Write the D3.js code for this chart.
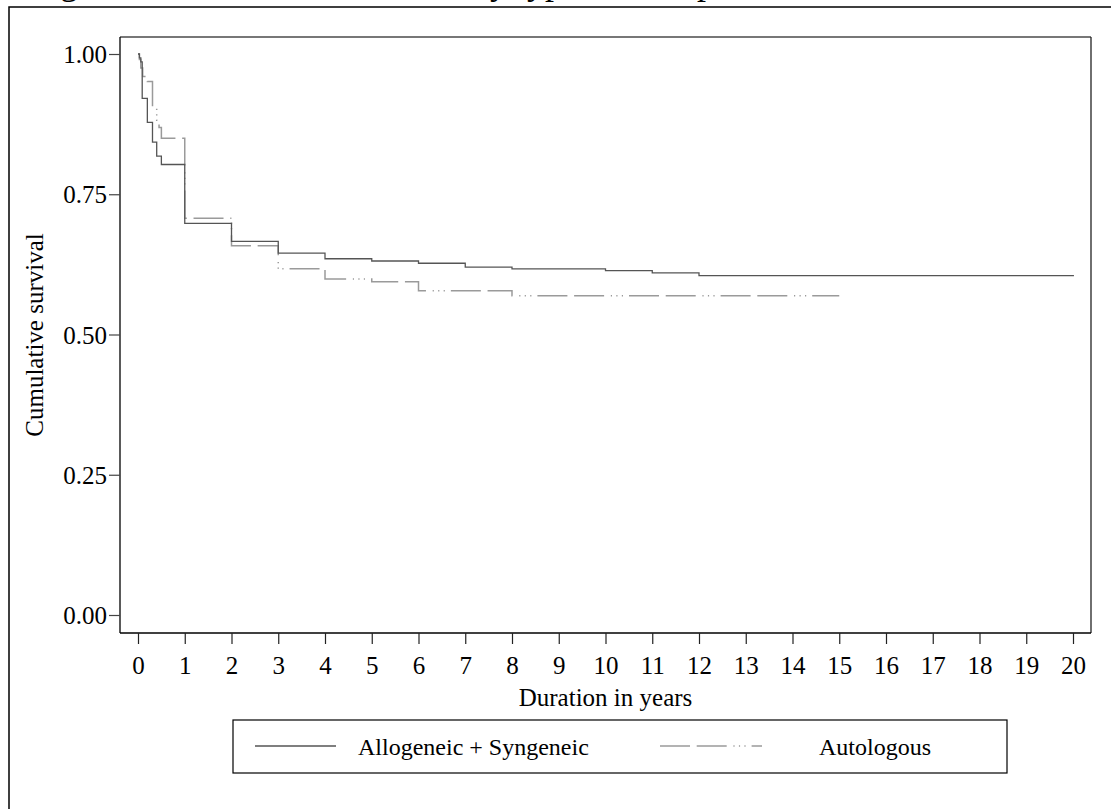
<!DOCTYPE html>
<html>
<head>
<meta charset="utf-8">
<script src="https://cdn.jsdelivr.net/npm/d3@7"></script>
<style>
  html, body { margin: 0; padding: 0; background: #fff; overflow: hidden; }
  svg { display: block; }
  text { font-family: "Liberation Serif", "Times New Roman", serif; fill: #000; }
</style>
</head>
<body>
<svg id="chart" width="1111" height="809"></svg>
<script>
// ---- data ----
const titleText = "Figure 1: Cumulative survival by type of transplant,";
const xTicks = [0,1,2,3,4,5,6,7,8,9,10,11,12,13,14,15,16,17,18,19,20];
const yTicks = [0, 0.25, 0.5, 0.75, 1.0];
const yTickLabels = ["0.00", "0.25", "0.50", "0.75", "1.00"];
const seriesNames = ["Allogeneic + Syngeneic", "Autologous"];

const alloTimes = [0, 0.03, 0.06, 0.09, 0.2, 0.31, 0.4, 0.5, 1, 2, 3, 4, 5, 6, 7, 8, 10, 11, 12];
const alloSurv  = [1.0, 0.993, 0.986, 0.921, 0.878, 0.843, 0.818, 0.803, 0.698, 0.666, 0.645, 0.635, 0.631, 0.627, 0.620, 0.617, 0.614, 0.610, 0.605];
const alloEnd = 20.02;

const autoTimes = [0, 0.03, 0.06, 0.1, 0.2, 0.31, 0.4, 0.45, 0.5, 1, 2, 3, 4, 5, 6, 8];
const autoSurv  = [1.0, 0.99, 0.975, 0.96, 0.951, 0.903, 0.882, 0.869, 0.850, 0.707, 0.658, 0.617, 0.599, 0.594, 0.578, 0.569];
const autoEnd = 15;

// ---- layout ----
const svg = d3.select("#chart");
const plot = { left: 120, right: 1091, top: 37, bottom: 633 };
const x = d3.scaleLinear().domain([0, 20]).range([138, 1073]);
const y = d3.scaleLinear().domain([0, 1]).range([615, 54]);

// outer frame (right and bottom edges lie outside the picture)
svg.append("rect").attr("x", 9).attr("y", 7).attr("width", 1110).attr("height", 840)
  .attr("fill", "none").attr("stroke", "#000").attr("stroke-width", 1.5);

// title (cut off at the top edge, as in the reference)
svg.append("text").attr("x", 30).attr("y", -6).attr("font-size", 36).text(titleText);

// plot frame
svg.append("line").attr("x1", plot.left).attr("x2", plot.right).attr("y1", plot.top).attr("y2", plot.top)
  .attr("stroke", "#777").attr("stroke-width", 2);
svg.append("line").attr("x1", plot.right).attr("x2", plot.right).attr("y1", plot.top).attr("y2", plot.bottom)
  .attr("stroke", "#222").attr("stroke-width", 1.3);
svg.append("line").attr("x1", plot.left).attr("x2", plot.left).attr("y1", plot.top).attr("y2", plot.bottom)
  .attr("stroke", "#000").attr("stroke-width", 1.3);
svg.append("line").attr("x1", plot.left).attr("x2", plot.right).attr("y1", plot.bottom).attr("y2", plot.bottom)
  .attr("stroke", "#000").attr("stroke-width", 1.3);

// y axis
const yAxis = d3.axisLeft(y).tickValues(yTicks).tickSize(11).tickPadding(2)
  .tickFormat((d, i) => yTickLabels[i]);
const gy = svg.append("g").attr("transform", `translate(${plot.left},0)`).call(yAxis);
gy.select(".domain").remove();
gy.selectAll(".tick line").attr("stroke", "#444").attr("stroke-width", 1.2);
gy.selectAll(".tick text").attr("font-size", 25).attr("dy", "0.34em")
  .style("font-family", '"Liberation Serif", serif').attr("fill", "#000");

// x axis
const xAxis = d3.axisBottom(x).tickValues(xTicks).tickSize(11).tickPadding(12).tickFormat(d3.format("d"));
const gx = svg.append("g").attr("transform", `translate(0,${plot.bottom})`).call(xAxis);
gx.select(".domain").remove();
gx.selectAll(".tick line").attr("stroke", "#222").attr("stroke-width", 1.2);
gx.selectAll(".tick text").attr("font-size", 25)
  .style("font-family", '"Liberation Serif", serif').attr("fill", "#000");

// axis titles
svg.append("text").attr("x", x(10)).attr("y", 706).attr("text-anchor", "middle")
  .attr("font-size", 25).text("Duration in years");
svg.append("text").attr("transform", "translate(43,335) rotate(-90)").attr("text-anchor", "middle")
  .attr("font-size", 25).text("Cumulative survival");

// curves
const stepLine = d3.line().x(d => x(d[0])).y(d => y(d[1])).curve(d3.curveStepAfter);
function pts(times, surv, end) {
  const p = times.map((t, i) => [t, surv[i]]);
  p.push([end, surv[surv.length - 1]]);
  return p;
}
const dashPattern = "30,6.7,30,6.7,1.2,4.3,1.2,4.3,1.2,6";

svg.append("path").datum(pts(autoTimes, autoSurv, autoEnd)).attr("d", stepLine)
  .attr("fill", "none").attr("stroke", "#9a9a9a").attr("stroke-width", 1.5)
  .attr("stroke-dasharray", dashPattern);
svg.append("path").datum(pts(alloTimes, alloSurv, alloEnd)).attr("d", stepLine)
  .attr("fill", "none").attr("stroke", "#555").attr("stroke-width", 1.3);

// legend
const lg = svg.append("g");
lg.append("rect").attr("x", 233).attr("y", 720).attr("width", 774).attr("height", 53)
  .attr("fill", "none").attr("stroke", "#000").attr("stroke-width", 1.2);
lg.append("line").attr("x1", 255).attr("x2", 336).attr("y1", 746).attr("y2", 746)
  .attr("stroke", "#555").attr("stroke-width", 1.3);
lg.append("text").attr("x", 358).attr("y", 755).attr("font-size", 24).text(seriesNames[0]);
lg.append("line").attr("x1", 660).attr("x2", 762).attr("y1", 746).attr("y2", 746)
  .attr("stroke", "#9a9a9a").attr("stroke-width", 1.5).attr("stroke-dasharray", dashPattern);
lg.append("text").attr("x", 875).attr("y", 755).attr("text-anchor", "middle").attr("font-size", 24).text(seriesNames[1]);
</script>
</body>
</html>
